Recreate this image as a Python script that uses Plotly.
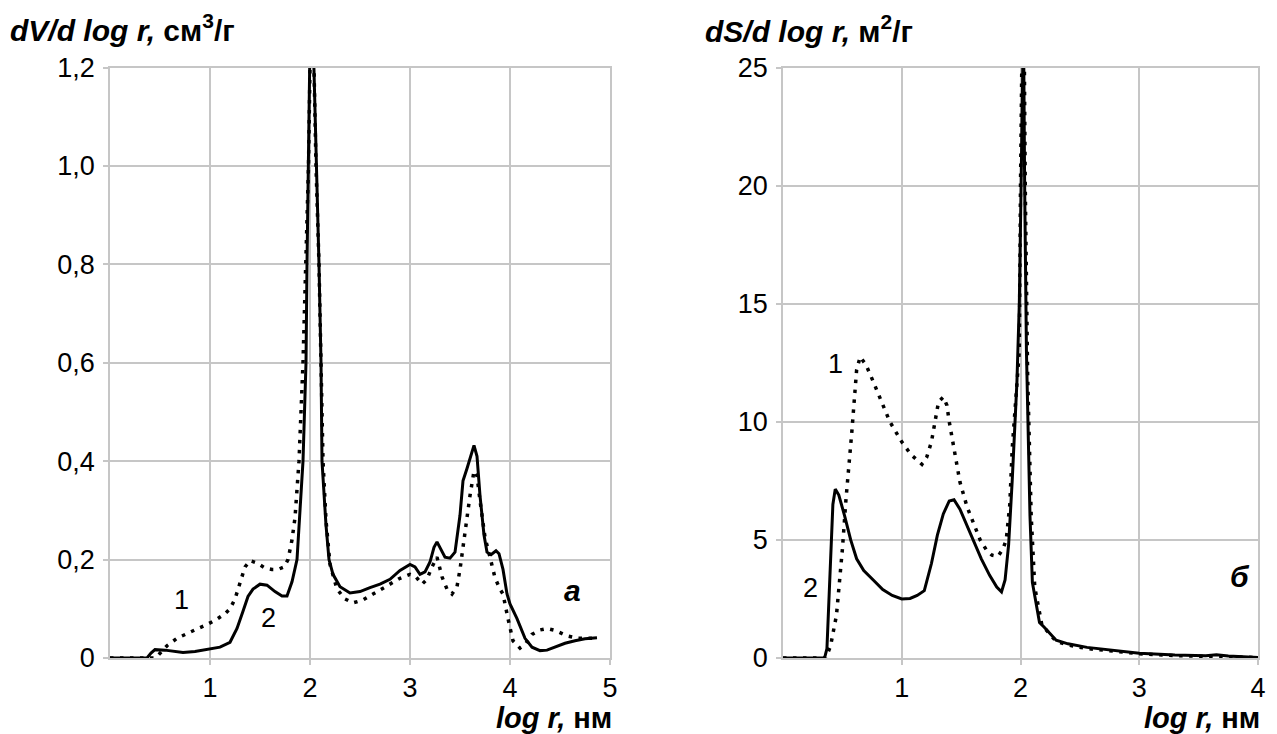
import plotly.graph_objects as go

# ---------------- data: panel "а" (dV/d log r) ----------------
x_a2 = [0, 0.37, 0.41, 0.45, 0.55, 0.73, 0.85, 1.0, 1.1, 1.2, 1.27, 1.33, 1.38, 1.43, 1.5, 1.57,
        1.65, 1.72, 1.77, 1.82, 1.87, 1.93, 1.96, 1.97, 1.98, 2.0, 2.02, 2.04, 2.06, 2.09, 2.11,
        2.12, 2.16, 2.19, 2.23, 2.3, 2.4, 2.5, 2.6, 2.7, 2.8, 2.9, 3.0, 3.05, 3.1, 3.15, 3.2,
        3.24, 3.27, 3.31, 3.35, 3.4, 3.45, 3.5, 3.53, 3.57, 3.61, 3.64, 3.67, 3.7, 3.74, 3.77,
        3.81, 3.86, 3.89, 3.93, 3.97, 4.0, 4.07, 4.15, 4.22, 4.3, 4.37, 4.45, 4.55, 4.65, 4.75, 4.87]
y_a2 = [0, 0, 0.01, 0.017, 0.016, 0.011, 0.013, 0.018, 0.022, 0.032, 0.06, 0.095, 0.125, 0.14,
        0.15, 0.148, 0.135, 0.126, 0.126, 0.155, 0.2, 0.4, 0.6, 0.8, 1.0, 1.25, 1.35, 1.2, 1.0,
        0.8, 0.6, 0.4, 0.27, 0.2, 0.17, 0.145, 0.132, 0.135, 0.143, 0.15, 0.16, 0.178, 0.19,
        0.185, 0.17, 0.175, 0.195, 0.225, 0.236, 0.22, 0.205, 0.203, 0.215, 0.29, 0.36, 0.385,
        0.41, 0.432, 0.41, 0.33, 0.25, 0.215, 0.21, 0.218, 0.212, 0.18, 0.13, 0.11, 0.08, 0.04,
        0.022, 0.015, 0.016, 0.022, 0.03, 0.035, 0.039, 0.041]

x_a1 = [0, 0.44, 0.47, 0.52, 0.57, 0.67, 0.77, 0.87, 0.97, 1.07, 1.15, 1.2, 1.25, 1.3, 1.35,
        1.4, 1.47, 1.55, 1.62, 1.68, 1.74, 1.78, 1.82, 1.85, 1.89, 1.93, 1.96, 1.985, 2.0, 2.02,
        2.04, 2.06, 2.09, 2.11, 2.13, 2.16, 2.2, 2.27, 2.35, 2.43, 2.53, 2.63, 2.72, 2.8, 2.9,
        3.0, 3.06, 3.12, 3.17, 3.22, 3.27, 3.32, 3.37, 3.42, 3.47, 3.5, 3.55, 3.6, 3.64, 3.67,
        3.7, 3.75, 3.8, 3.85, 3.9, 3.93, 3.98, 4.03, 4.1, 4.16, 4.22, 4.3, 4.37, 4.45, 4.57,
        4.68, 4.8, 4.87]
y_a1 = [0, 0, 0.003, 0.015, 0.025, 0.04, 0.05, 0.059, 0.068, 0.079, 0.09, 0.1, 0.12, 0.15,
        0.185, 0.198, 0.193, 0.183, 0.18, 0.18, 0.185, 0.2, 0.24, 0.285, 0.4, 0.6, 0.8, 1.0,
        1.2, 1.32, 1.2, 1.0, 0.8, 0.6, 0.4, 0.28, 0.19, 0.14, 0.12, 0.112, 0.118, 0.13, 0.14,
        0.15, 0.162, 0.17, 0.165, 0.15, 0.16, 0.185, 0.205, 0.165, 0.14, 0.13, 0.145, 0.18,
        0.258, 0.33, 0.38, 0.37, 0.32, 0.245, 0.205, 0.163, 0.14, 0.13, 0.08, 0.035, 0.02,
        0.03, 0.048, 0.057, 0.06, 0.056, 0.045, 0.04, 0.04, 0.041]

# ---------------- data: panel "б" (dS/d log r) ----------------
x_b2 = [0, 0.35, 0.37, 0.395, 0.42, 0.44, 0.47, 0.52, 0.57, 0.62, 0.68, 0.76, 0.84, 0.92, 1.0,
        1.07, 1.13, 1.19, 1.25, 1.3, 1.35, 1.4, 1.44, 1.49, 1.55, 1.6, 1.67, 1.74, 1.8, 1.84,
        1.87, 1.9, 1.93, 1.97, 1.99, 2.005, 2.015, 2.025, 2.035, 2.05, 2.08, 2.1, 2.16, 2.2,
        2.3, 2.4, 2.56, 2.8, 3.0, 3.3, 3.56, 3.65, 3.75, 4.0]
y_b2 = [0, 0, 0.4, 3.2, 6.5, 7.15, 6.9, 6.0, 5.0, 4.2, 3.7, 3.3, 2.9, 2.65, 2.5, 2.52, 2.65,
        2.85, 4.0, 5.2, 6.1, 6.65, 6.7, 6.3, 5.6, 5.0, 4.2, 3.5, 3.0, 2.8, 3.3, 4.8, 7.5, 11.7,
        15, 20, 27, 27, 20, 13, 6, 3.2, 1.5, 1.3, 0.75, 0.6, 0.45, 0.3, 0.2, 0.13, 0.1, 0.14,
        0.08, 0.02]

x_b1 = [0, 0.36, 0.4, 0.45, 0.5, 0.53, 0.58, 0.62, 0.65, 0.7, 0.76, 0.83, 0.9, 1.0, 1.08,
        1.17, 1.21, 1.25, 1.31, 1.35, 1.38, 1.4, 1.45, 1.49, 1.55, 1.6, 1.66, 1.71, 1.76, 1.81,
        1.85, 1.88, 1.91, 1.93, 1.96, 1.99, 2.0, 2.015, 2.03, 2.04, 2.06, 2.09, 2.12, 2.18,
        2.3, 2.4, 2.56, 2.8, 3.0, 3.3, 3.56, 3.65, 4.0]
y_b1 = [0, 0, 0.5, 1.8, 4.6, 6.7, 9.6, 12.2, 12.75, 12.4, 11.7, 10.8, 10.0, 9.15, 8.6, 8.2,
        8.5, 9.15, 10.85, 11.05, 10.7, 10.0, 8.6, 7.45, 6.4, 5.75, 5.0, 4.6, 4.35, 4.3, 4.6,
        5.0, 6.5, 8.85, 11, 13, 20, 27, 27, 20, 12, 6, 3.0, 1.4, 0.7, 0.55, 0.4, 0.28, 0.18,
        0.1, 0.06, 0.08, 0.02]

# ---------------- ticks ----------------
xa_ticks = [1, 2, 3, 4, 5]
xa_text = ["1", "2", "3", "4", "5"]
ya_ticks = [0, 0.2, 0.4, 0.6, 0.8, 1.0, 1.2]
ya_text = ["0", "0,2", "0,4", "0,6", "0,8", "1,0", "1,2"]
xb_ticks = [1, 2, 3, 4]
xb_text = ["1", "2", "3", "4"]
yb_ticks = [0, 5, 10, 15, 20, 25]
yb_text = ["0", "5", "10", "15", "20", "25"]

# page has an 8px body margin: figure is placed at (8, 8)
OFF = 8
W, H = 1277 - OFF, 734 - OFF
FONT = "Liberation Sans, Arial, sans-serif"
GRID = "#c6c6c6"
DOT = "3.5px,6.5px"


def px(x):
    return (x - OFF) / W


def py(y):
    return 1 - (y - OFF) / H


fig = go.Figure()
fig.add_trace(go.Scatter(x=x_a1, y=y_a1, mode="lines", xaxis="x", yaxis="y",
                         line=dict(color="black", width=3.5, dash=DOT), showlegend=False))
fig.add_trace(go.Scatter(x=x_a2, y=y_a2, mode="lines", xaxis="x", yaxis="y",
                         line=dict(color="black", width=3), showlegend=False))
fig.add_trace(go.Scatter(x=x_b1, y=y_b1, mode="lines", xaxis="x2", yaxis="y2",
                         line=dict(color="black", width=3.5, dash=DOT), showlegend=False))
fig.add_trace(go.Scatter(x=x_b2, y=y_b2, mode="lines", xaxis="x2", yaxis="y2",
                         line=dict(color="black", width=3), showlegend=False))

ydom = [py(658), py(67.5)]
common = dict(showgrid=True, gridcolor=GRID, gridwidth=1.5, zeroline=False,
              showline=True, linecolor=GRID, linewidth=1.5, mirror=True,
              ticks="outside", ticklen=5, tickcolor=GRID, tickwidth=1.5,
              tickfont=dict(family=FONT, size=27, color="black"), tickmode="array",
              automargin=False)

fig.update_layout(
    width=W, height=H, margin=dict(l=0, r=0, t=0, b=0),
    paper_bgcolor="white", plot_bgcolor="white", template="none",
    xaxis=dict(domain=[px(110), px(610)], range=[0, 5], tickvals=xa_ticks, ticktext=xa_text,
               anchor="y", **common),
    yaxis=dict(domain=ydom, range=[0, 1.2], tickvals=ya_ticks, ticktext=ya_text,
               anchor="x", ticklabelstandoff=3, **common),
    xaxis2=dict(domain=[px(783), px(1258)], range=[0, 4], tickvals=xb_ticks, ticktext=xb_text,
                anchor="y2", **common),
    yaxis2=dict(domain=ydom, range=[0, 25], tickvals=yb_ticks, ticktext=yb_text,
                anchor="x2", ticklabelstandoff=3, **common),
)


def ann(text, x, y, size, xanchor="center", yanchor="middle"):
    fig.add_annotation(text=text, x=px(x), y=py(y), xref="paper", yref="paper",
                       showarrow=False, xanchor=xanchor, yanchor=yanchor,
                       font=dict(family=FONT, size=size, color="black"))


ann("<b><i>dV/d log r,</i> см<sup>3</sup>/г</b>", 8, 28, 30, xanchor="left")
ann("<b><i>dS/d log r,</i> м<sup>2</sup>/г</b>", 703, 29, 30, xanchor="left")
ann("<b><i>log r,</i> нм</b>", 614, 718, 29, xanchor="right")
ann("<b><i>log r,</i> нм</b>", 1262, 718, 29, xanchor="right")
ann("1", 181, 600, 27)
ann("2", 268, 618, 27)
ann("<b><i>a</i></b>", 572, 590, 30)
ann("1", 835, 364, 27)
ann("2", 810, 588, 27)
ann("<b><i>б</i></b>", 1240, 576, 30)

fig.write_html("out.html")
